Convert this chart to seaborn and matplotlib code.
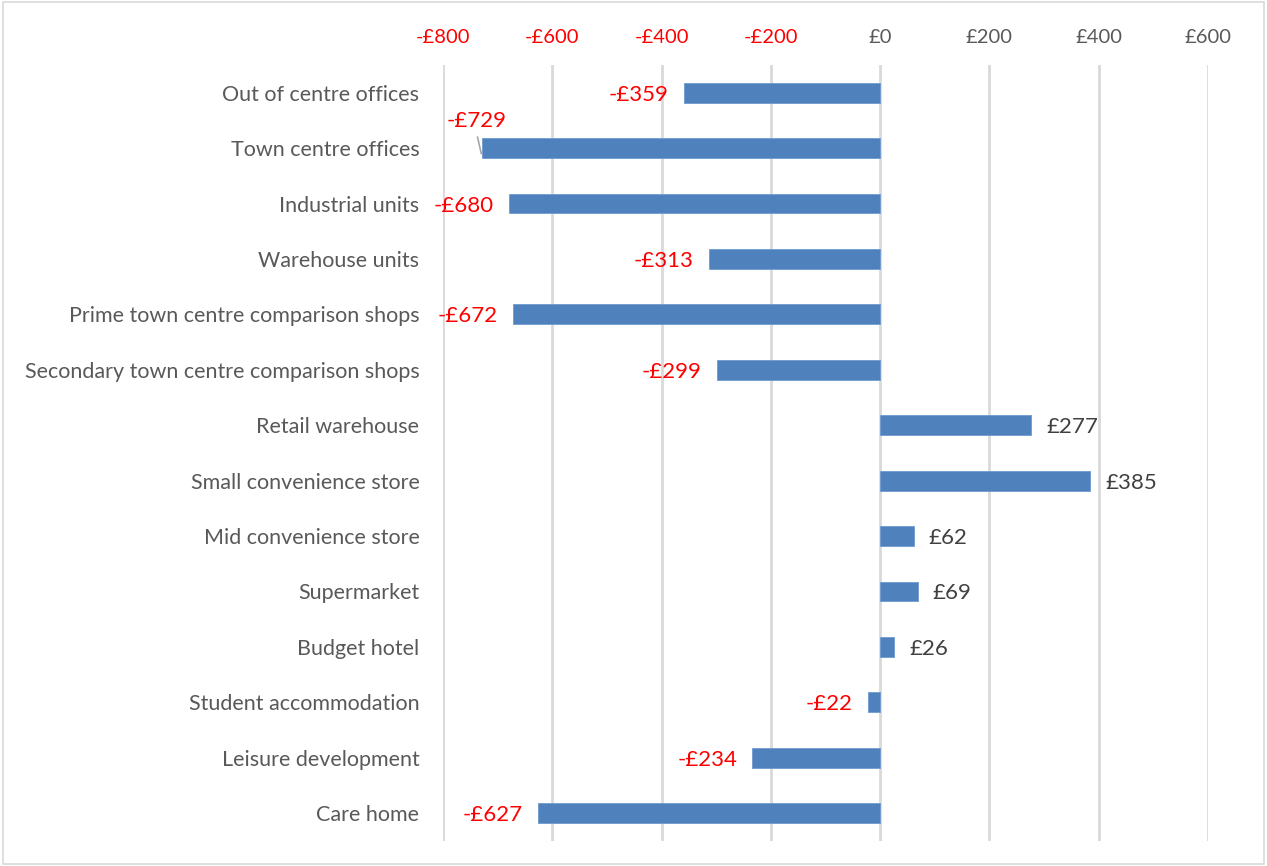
import matplotlib
matplotlib.use("Agg")
import matplotlib.pyplot as plt
import seaborn as sns
import pandas as pd

categories = ["Out of centre offices", "Town centre offices", "Industrial units",
              "Warehouse units", "Prime town centre comparison shops",
              "Secondary town centre comparison shops", "Retail warehouse",
              "Small convenience store", "Mid convenience store", "Supermarket",
              "Budget hotel", "Student accommodation", "Leisure development", "Care home"]
values = [-359, -729, -680, -313, -672, -299, 277, 385, 62, 69, 26, -22, -234, -627]
ticks = [-800, -600, -400, -200, 0, 200, 400, 600]

df = pd.DataFrame({"cat": categories, "val": values})

sns.set_theme(style="white")
plt.rcParams['font.family'] = ['Lato', 'DejaVu Sans']

fig = plt.figure(figsize=(12.67, 8.66), dpi=100)
ax = fig.add_axes([0.3497, 0.029, 0.6037, 0.896])

sns.barplot(data=df, x="val", y="cat", orient="h", color="#4F81BD",
            width=0.36, edgecolor="#6F9AD0", linewidth=0.6, ax=ax, saturation=1)

ax.set_xlim(-800, 600)
ax.set_ylim(13.5, -0.5)
ax.set_xticks(ticks)
ax.set_xticklabels([(f"-£{abs(t)}" if t < 0 else f"£{t}") for t in ticks])
ax.xaxis.tick_top()
ax.tick_params(axis="x", length=0, pad=14, labelsize=14.5)
ax.tick_params(axis="y", length=0, pad=17, labelsize=15.5, labelcolor="#595959")
for tk, t in zip(ax.xaxis.get_major_ticks(), ticks):
    tk.label2.set_color("#FF0000" if t < 0 else "#595959")
ax.set_xlabel("")
ax.set_ylabel("")
for s in ax.spines.values():
    s.set_visible(False)
for t in ticks:
    ax.axvline(t, color="#D9D9D9", lw=2, zorder=0)

for i, v in enumerate(values):
    txt = f"-£{abs(v)}" if v < 0 else f"£{v}"
    col = "#FF0000" if v < 0 else "#404040"
    if v == -729:
        ax.text(v - 9, i - 0.53, txt, ha="center", va="center_baseline", fontsize=16, color=col)
        ax.plot([v - 8, v - 1], [i - 0.2, i + 0.1], color="#A6A6A6", lw=1.2)
    elif v < 0:
        ax.text(v - 28, i, txt, ha="right", va="center_baseline", fontsize=16, color=col)
    else:
        ax.text(v + 27, i, txt, ha="left", va="center_baseline", fontsize=16, color=col)

fig.patches.append(plt.Rectangle((0.002, 0.002), 0.996, 0.996, transform=fig.transFigure,
                                 fill=False, edgecolor="#D9D9D9", lw=1.2))
fig.savefig("out.png", dpi=100)
